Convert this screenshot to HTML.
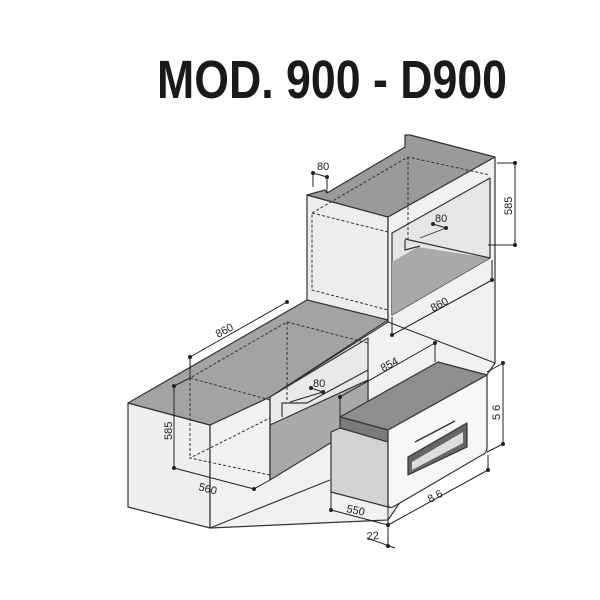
<!DOCTYPE html>
<html><head><meta charset="utf-8"><style>
html,body{margin:0;padding:0;background:#fff;width:600px;height:600px;overflow:hidden}
svg{display:block}
text{font-family:"Liberation Sans",sans-serif;fill:#222}
</style></head><body>
<svg width="600" height="600" viewBox="0 0 600 600" xmlns="http://www.w3.org/2000/svg">
<text x="157" y="98" font-size="54" font-weight="bold" textLength="350" lengthAdjust="spacingAndGlyphs" style="fill:#1a1a1a">MOD. 900 - D900</text>

<g stroke="#333" stroke-width="1.2" stroke-linejoin="round">
<!-- tall column -->
<polygon points="307,195 388,217 388,320 307,302" fill="#eeeded"/>
<polygon points="307,195 325,190 327,193 405,147 405,135 410,135 495,157 388,217" fill="#9a9a9a"/>
<polygon points="388,217 495,157 495,363 388,420" fill="#f3f1f0"/>
<polygon points="392,233 490,178 490,258 392,315" fill="#e6e6e6"/>
<polygon points="392,262 418,247 490,258 392,315" fill="#a9a9a9" stroke="none"/>
<line x1="405" y1="239" x2="490" y2="258"/>
<polyline points="405,240 405,250 420,246" fill="none"/>
<line x1="420" y1="238" x2="446" y2="228" stroke-width="0.8"/>
<!-- base cabinet -->
<polygon points="128,403 210,425 210,528 128,507" fill="#f0eeee"/>
<polygon points="210,425 270,397 388,322 495,363 388,520 210,528" fill="#f3f1f0"/>
<polygon points="128,403 307,300 388,320 270,397 210,425" fill="#a3a3a3"/>
<polygon points="270,397 368,338 368,400 270,425" fill="#e9e9e9"/>
<polygon points="270,425 368,380 368,420 270,480" fill="#a9a9a9"/>
<polyline points="282,417 282,403 307,403 368,370" fill="none"/>
<line x1="210" y1="528" x2="330" y2="480"/>
<line x1="270" y1="397" x2="270" y2="480"/>
<!-- oven -->
<polygon points="331,432 340,428 388,440 388,507 331,492" fill="#d3d3d3"/>
<polygon points="340,417 438,362 487,375 388,430" fill="#8e8e8e"/>
<polygon points="340,417 388,430 388,442 340,428" fill="#7b7b7b"/>
<path d="M388,430 L487,375 L487,448 Q487,453 482,455 L393,507 Q388,509 388,503 Z" fill="#f7f7f7"/>
<polygon points="408,457 467,423 467,447 408,475" fill="#666"/>
<polygon points="412,462 463,432 463,443 412,470" fill="#ddd" stroke="none"/>
<line x1="415" y1="442" x2="455" y2="421" stroke-width="1.5"/>
</g>

<!-- dashed hidden lines -->
<g stroke="#333" stroke-width="1" stroke-dasharray="3,2" fill="none">
<polyline points="388,232 312,213 312,290 388,310"/>
<polyline points="312,213 408,157 490,175"/>
<line x1="408" y1="157" x2="408" y2="240"/>
<polyline points="270,400 190,378 287,322 368,343"/>
<line x1="190" y1="378" x2="190" y2="458"/>
<polyline points="270,475 190,458 270,418"/>
<line x1="287" y1="322" x2="287" y2="400"/>
</g>

<!-- dimension lines -->
<g stroke="#222" stroke-width="1" fill="none">
<line x1="313" y1="173" x2="313" y2="187"/><line x1="327" y1="177" x2="327" y2="193"/><line x1="313" y1="173" x2="327" y2="177"/>
<line x1="497" y1="163" x2="515" y2="163"/><line x1="488" y1="245" x2="515" y2="245"/><line x1="515" y1="163" x2="515" y2="245"/>
<line x1="433" y1="224" x2="446" y2="228"/>
<line x1="392" y1="317" x2="392" y2="335"/><line x1="392" y1="335" x2="492" y2="280"/><line x1="492" y1="280" x2="492" y2="260"/>
<line x1="190" y1="357" x2="287" y2="302"/><line x1="190" y1="357" x2="190" y2="378"/>
<line x1="174" y1="386" x2="174" y2="468"/><line x1="174" y1="386" x2="190" y2="378"/>
<line x1="174" y1="468" x2="254" y2="489"/><line x1="254" y1="489" x2="270" y2="480"/>
<line x1="311" y1="388" x2="323" y2="392"/><line x1="290" y1="402" x2="323" y2="392"/>
<line x1="340" y1="397" x2="435" y2="343"/><line x1="340" y1="397" x2="340" y2="417"/><line x1="435" y1="343" x2="435" y2="362"/>
<line x1="503" y1="363" x2="503" y2="444"/><line x1="487" y1="372" x2="503" y2="363"/><line x1="487" y1="452" x2="503" y2="444"/>
<line x1="388" y1="525" x2="488" y2="470"/><line x1="488" y1="455" x2="488" y2="470"/>
<line x1="331" y1="510" x2="388" y2="525"/><line x1="331" y1="492" x2="331" y2="510"/>
<line x1="388" y1="507" x2="388" y2="548"/><line x1="367" y1="538" x2="395" y2="548"/>
</g>
<g fill="#222">
<circle cx="313" cy="173" r="2"/><circle cx="327" cy="177" r="2"/>
<circle cx="515" cy="163" r="2"/><circle cx="515" cy="245" r="2"/>
<circle cx="433" cy="224" r="2"/><circle cx="446" cy="228" r="2"/>
<circle cx="392" cy="335" r="2"/><circle cx="492" cy="280" r="2"/>
<circle cx="190" cy="357" r="2"/><circle cx="287" cy="302" r="2"/>
<circle cx="174" cy="386" r="2"/><circle cx="174" cy="468" r="2"/><circle cx="254" cy="489" r="2"/>
<circle cx="311" cy="388" r="2"/><circle cx="323" cy="392" r="2"/>
<circle cx="340" cy="397" r="2"/><circle cx="435" cy="343" r="2"/>
<circle cx="503" cy="363" r="2"/><circle cx="503" cy="444" r="2"/>
<circle cx="488" cy="470" r="2"/><circle cx="388" cy="525" r="2"/><circle cx="331" cy="510" r="2"/>
<circle cx="388" cy="546" r="2"/>
</g>
<g font-size="11">
<text x="317" y="170">80</text>
<text x="435" y="222">80</text>
<text x="313" y="387">80</text>
<text transform="translate(512,215) rotate(-90)">585</text>
<text transform="translate(172,440) rotate(-90)">585</text>
<text transform="translate(500,420) rotate(-90)">5 6</text>
<text transform="translate(433,312) rotate(-28)">860</text>
<text transform="translate(218,338) rotate(-28)">860</text>
<text transform="translate(383,372) rotate(-28)">854</text>
<text transform="translate(430,503) rotate(-28)">8 6</text>
<text transform="translate(198,490) rotate(15)">560</text>
<text transform="translate(346,512) rotate(12)">550</text>
<text transform="translate(367,540) rotate(-5)">22</text>
</g>
</svg>
</body></html>
